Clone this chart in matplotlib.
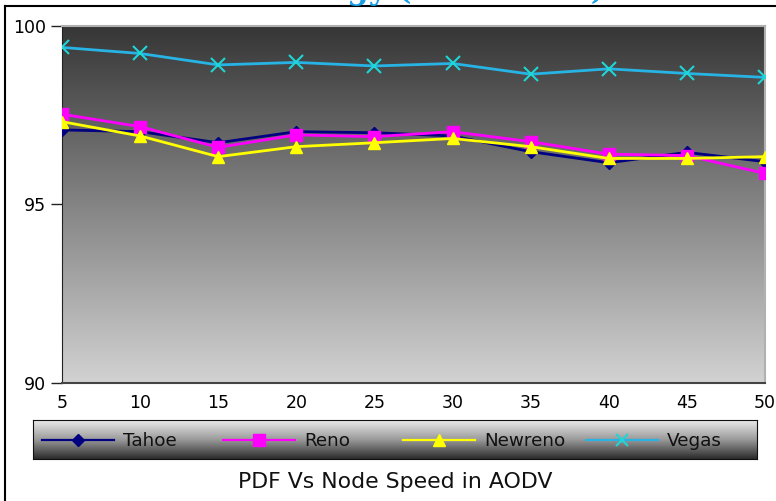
import numpy as np
import matplotlib
matplotlib.use("Agg")
import matplotlib.pyplot as plt
from matplotlib.lines import Line2D
from matplotlib.colors import LinearSegmentedColormap

plt.rcParams['font.family'] = ['DejaVu Sans']

speeds = [5, 10, 15, 20, 25, 30, 35, 40, 45, 50]
tahoe = [97.09, 97.04, 96.73, 97.04, 97.01, 96.92, 96.48, 96.17, 96.46, 96.20]
reno = [97.53, 97.18, 96.60, 96.95, 96.90, 97.04, 96.76, 96.41, 96.37, 95.87]
newreno = [97.32, 96.92, 96.34, 96.62, 96.73, 96.85, 96.62, 96.29, 96.29, 96.34]
vegas = [99.40, 99.23, 98.91, 98.98, 98.88, 98.95, 98.65, 98.80, 98.67, 98.56]
yticks = [90, 95, 100]

W, H = 776, 501
fig = plt.figure(figsize=(W / 100, H / 100), dpi=100)

# main plot area
ax = fig.add_axes([62 / W, 1 - 383 / H, (765 - 62) / W, (383 - 26) / H])
grad = np.linspace(0, 1, 256).reshape(-1, 1)
ax.imshow(grad, cmap=LinearSegmentedColormap.from_list('bg', ['#363636', '#d2d2d2']),
          aspect='auto', extent=[5, 50, 90, 100], origin='upper', zorder=0)

styles = [
    ('Tahoe', tahoe, dict(color='#000080', marker='D', ms=6)),
    ('Reno', reno, dict(color='#ff00ff', marker='s', ms=8)),
    ('Newreno', newreno, dict(color='#ffff00', marker='^', ms=9)),
    ('Vegas', vegas, dict(color='#27b4e4', marker='x', ms=10, mew=1.5, mec='#1fd6d6')),
]
for z, (name, vals, st) in enumerate(styles):
    ax.plot(speeds, vals, lw=2, label=name, zorder=3 + z, **st)

ax.set_xlim(5, 50)
ax.set_ylim(90, 100)
ax.set_xticks(speeds)
ax.set_yticks(yticks)
ax.tick_params(axis='x', length=0, pad=8, labelsize=12.5)
ax.tick_params(axis='y', length=8, width=1, color='#222222', labelsize=12.5)
for s in ['top', 'right']:
    ax.spines[s].set_color('#b0b0b0')
    ax.spines[s].set_linewidth(1.5)
ax.spines['left'].set_color('#222222')
ax.spines['bottom'].set_color('#444444')
ax.spines['bottom'].set_linewidth(1.5)

# legend strip with gradient fill, laid out in pixel units
lx0, lx1, ly0, ly1 = 33, 757, 420, 459
lax = fig.add_axes([lx0 / W, 1 - ly1 / H, (lx1 - lx0) / W, (ly1 - ly0) / H])
lax.imshow(grad, cmap=LinearSegmentedColormap.from_list('lg', ['#ececec', '#9a9a9a', '#2a2a2a']),
           aspect='auto', extent=[lx0, lx1, ly1, ly0], origin='upper')
lax.set_xlim(lx0, lx1)
lax.set_ylim(ly1, ly0)
lax.set_xticks([])
lax.set_yticks([])
for s in lax.spines.values():
    s.set_color('#111111')

entry_x = [42, 223, 403, 586]
legend_ms = [6, 8, 9, 9]
ymid = 440
for x0, ms, (name, vals, st) in zip(entry_x, legend_ms, styles):
    st = dict(st, ms=ms)
    lax.plot([x0, x0 + 72], [ymid, ymid], lw=1.6, color=st['color'])
    lax.plot([x0 + 36], [ymid], lw=0, **st)
    lax.text(x0 + 81, ymid + 1, name, fontsize=13.2, va='center', ha='left', color='#111111')

fig.text(395 / W, 1 - 482 / H, 'PDF Vs Node Speed in AODV', ha='center', va='center',
         fontsize=15.8, color='#111111')

# clipped heading above the frame
fig.text(605 / W, 1 + 1 / H, 'Mobile Strategy (Node Rate)', ha='right', va='baseline',
         fontsize=22, fontweight='bold', family='DejaVu Serif', color='#1a9fe6')

fig.add_artist(Line2D([5 / W, 1], [1 - 6 / H, 1 - 6 / H], color='black', lw=1.5))
fig.add_artist(Line2D([5 / W, 5 / W], [0, 1 - 6 / H], color='black', lw=1.5))

fig.savefig('out.png', dpi=100)
